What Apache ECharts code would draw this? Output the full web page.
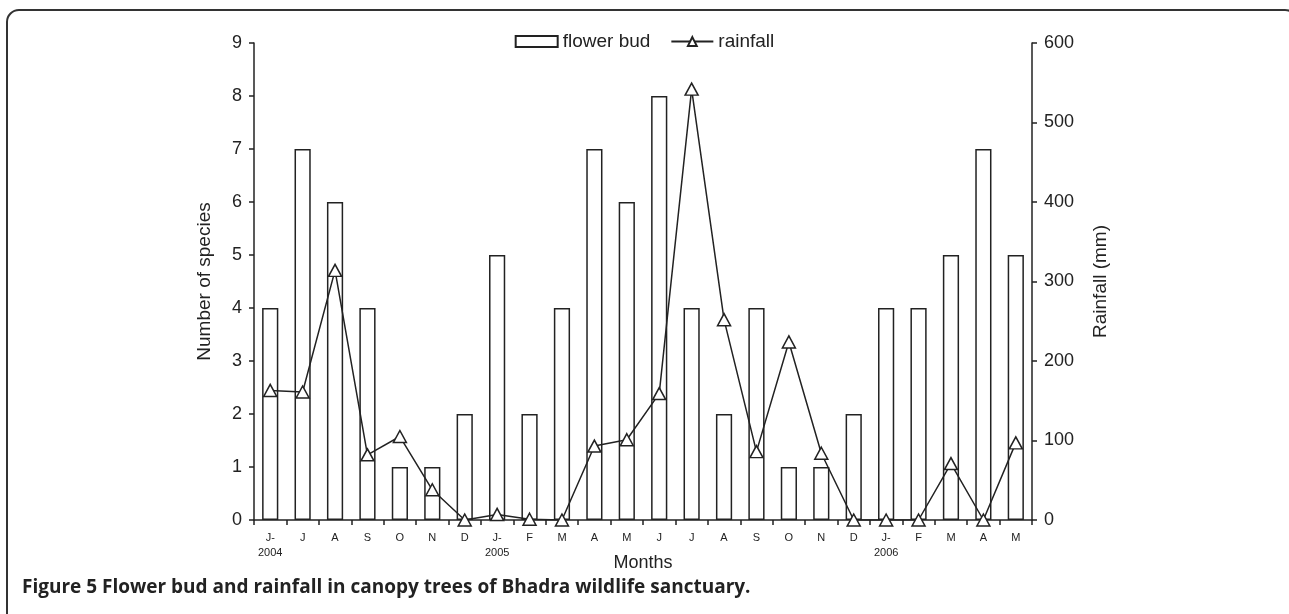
<!DOCTYPE html>
<html>
<head>
<meta charset="utf-8">
<script src="https://cdn.jsdelivr.net/npm/echarts@6/dist/echarts.min.js"></script>
<style>html,body{margin:0;padding:0;background:#fff;}#c{width:1289px;height:614px;}</style>
</head>
<body>
<div id="c"></div>
<script>
var months = ['J-','J','A','S','O','N','D','J-','F','M','A','M','J','J','A','S','O','N','D','J-','F','M','A','M'];
var years = ['2004','','','','','','','2005','','','','','','','','','','','','2006','','','',''];
var flowerBud = [4,7,6,4,1,1,2,5,2,4,7,6,8,4,2,4,1,1,2,4,4,5,7,5];
var rainfall = [163,161,314,82,105,38,0,7,1,0,93,101,159,542,252,86,224,84,0,0,0,71,0,97];
var leftTicks = [0,1,2,3,4,5,6,7,8,9];
var rightTicks = [0,100,200,300,400,500,600];

var chart = echarts.init(document.getElementById('c'), null, {renderer:'canvas'});
var F = 'Liberation Sans, Arial, sans-serif';
chart.setOption({
  animation:false,
  backgroundColor:'#fff',
  textStyle:{fontFamily:F,color:'#222'},
  grid:{left:254,right:257,top:43,bottom:94},
  legend:{
    top:27, left:'center', itemGap:20, itemWidth:42, itemHeight:11,
    textStyle:{fontFamily:F,fontSize:19,color:'#222'},
    data:[{name:'flower bud',icon:'rect'},{name:'rainfall'}]
  },
  xAxis:{
    type:'category', data:months,
    name:'Months', nameLocation:'middle', nameGap:34, nameMoveOverlap:false,
    nameTextStyle:{fontFamily:F,fontSize:18,color:'#222'},
    axisLine:{lineStyle:{color:'#222',width:1.5}},
    axisTick:{show:true,length:5,lineStyle:{color:'#222',width:1.5}},
    axisLabel:{
      interval:0, margin:10, fontSize:11, color:'#222', lineHeight:15,
      formatter:function(v,i){return years[i] ? v+'\n'+years[i] : v;}
    }
  },
  yAxis:[{
    type:'value', min:0, max:leftTicks[leftTicks.length-1], interval:1,
    name:'Number of species', nameLocation:'middle', nameGap:40, nameRotate:90, nameMoveOverlap:false,
    nameTextStyle:{fontFamily:F,fontSize:19,color:'#222'},
    axisLine:{show:true,lineStyle:{color:'#222',width:1.5}},
    axisTick:{show:true,length:5,lineStyle:{color:'#222',width:1.5}},
    axisLabel:{fontSize:18,color:'#222',margin:12},
    splitLine:{show:false}
  },{
    type:'value', min:0, max:rightTicks[rightTicks.length-1], interval:100,
    name:'Rainfall (mm)', nameLocation:'middle', nameGap:59, nameRotate:90, nameMoveOverlap:false,
    nameTextStyle:{fontFamily:F,fontSize:19,color:'#222'},
    axisLine:{show:true,lineStyle:{color:'#222',width:1.5}},
    axisTick:{show:true,length:5,lineStyle:{color:'#222',width:1.5}},
    axisLabel:{fontSize:18,color:'#222',margin:12},
    splitLine:{show:false}
  }],
  series:[{
    name:'flower bud', type:'bar', data:flowerBud, barWidth:'50%', yAxisIndex:0,
    itemStyle:{color:'#fff',borderColor:'#222',borderWidth:1.5}
  },{
    name:'rainfall', type:'line', data:rainfall, yAxisIndex:1,
    symbol:'triangle', symbolSize:[13,12], showAllSymbol:true,
    lineStyle:{color:'#222',width:1.5},
    itemStyle:{color:'#fff',borderColor:'#222',borderWidth:1.5},
    z:5
  }],
  graphic:[{
    type:'rect',
    shape:{x:7,y:10,width:1290,height:700,r:12},
    style:{fill:null,stroke:'#333',lineWidth:2},
    z:-1
  },{
    type:'text', left:22, top:578,
    style:{text:'Figure 5 Flower bud and rainfall in canopy trees of Bhadra wildlife sanctuary.',
      font:'bold 19px "Open Sans", sans-serif', fill:'#222'}
  }]
});
</script>
</body>
</html>
